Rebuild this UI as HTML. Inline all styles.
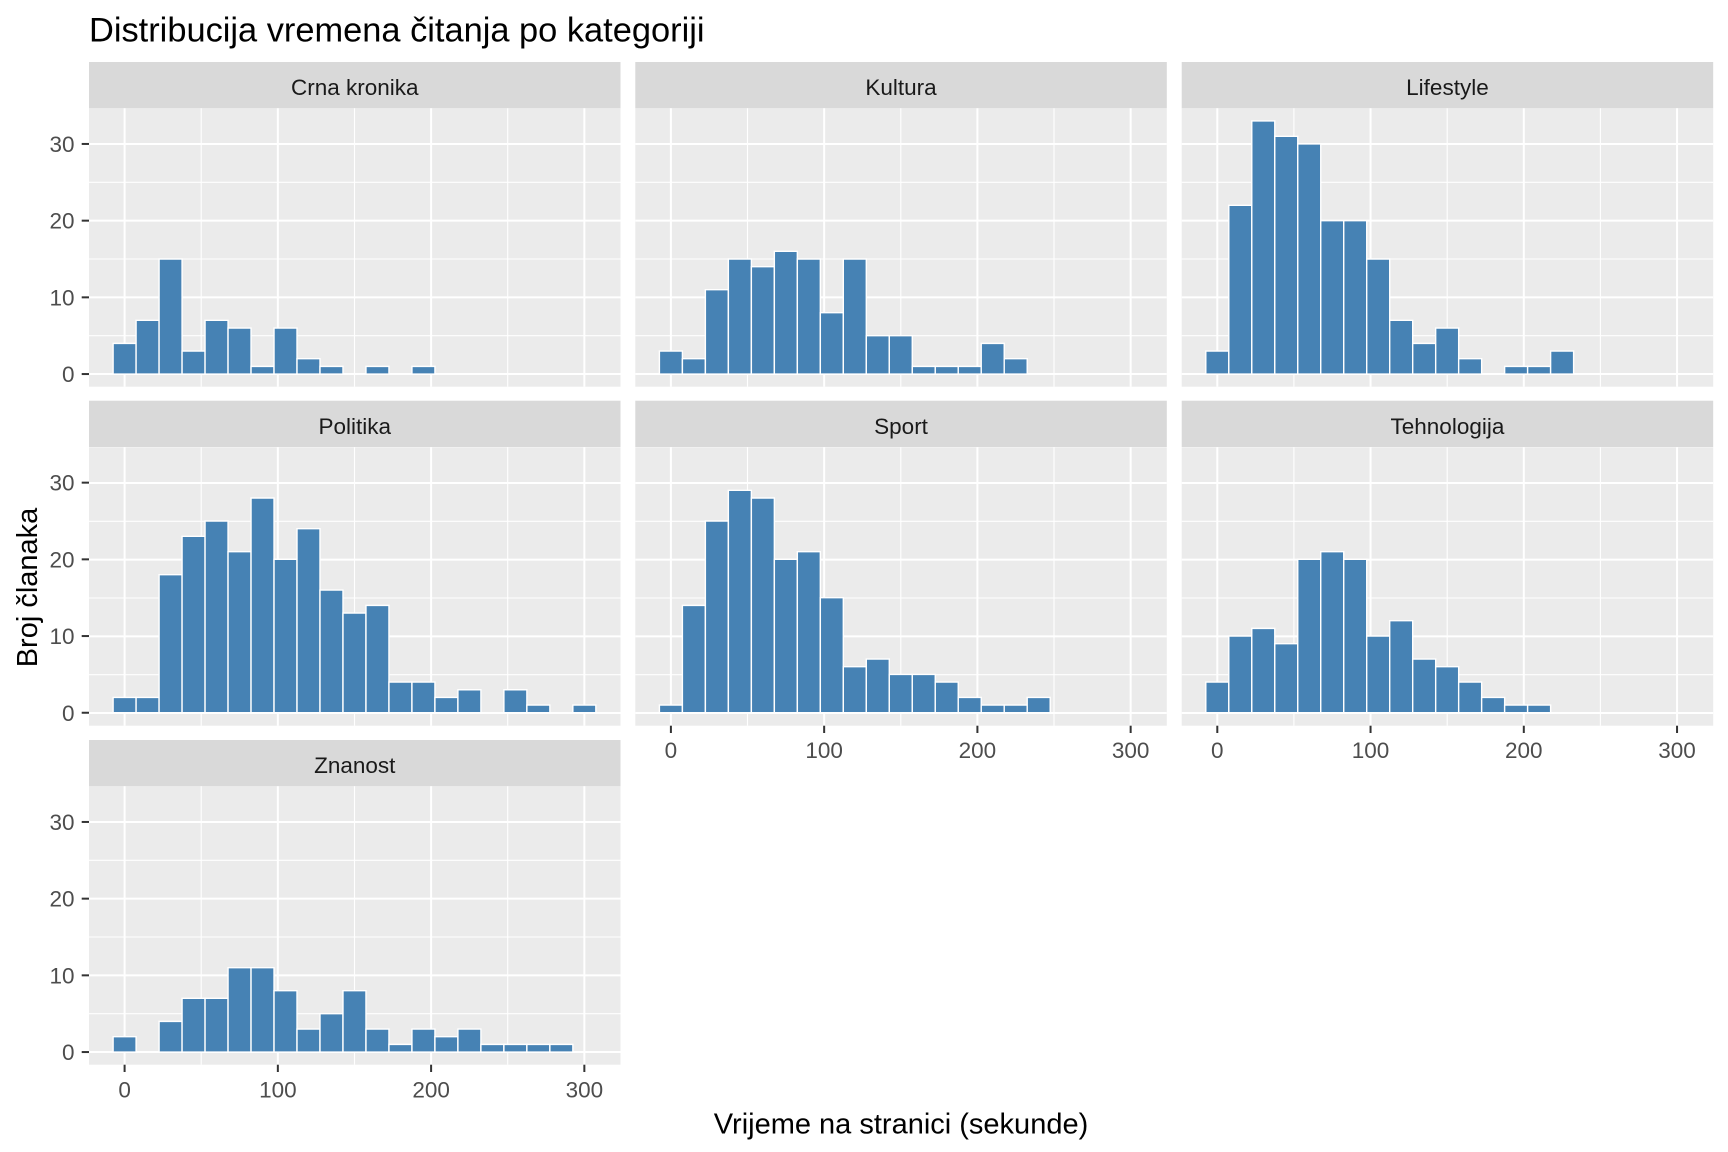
<!DOCTYPE html>
<html>
<head>
<meta charset="utf-8">
<style>
html,body{margin:0;padding:0;background:#fff;}
svg{display:block;}
text{font-family:"Liberation Sans",Arial,sans-serif;}
.strip{font-size:22.5px;fill:#1A1A1A;text-anchor:middle;}
.yl{font-size:22.5px;fill:#4D4D4D;text-anchor:end;}
.xl{font-size:22.5px;fill:#4D4D4D;text-anchor:middle;}
.bars rect{fill:#4682B4;stroke:#fff;stroke-width:1.4;vector-effect:non-scaling-stroke;}
.tk{stroke:#333;stroke-width:2;}
</style>
</head>
<body>
<svg width="1728" height="1152" viewBox="0 0 1728 1152" xmlns="http://www.w3.org/2000/svg">
<defs>
  <g id="bg">
    <rect x="0" y="0" width="531.5" height="278.4" fill="#EBEBEB"/>
    <g stroke="#fff" stroke-width="1.1">
      <line x1="0" x2="531.5" y1="227.4" y2="227.4"/>
      <line x1="0" x2="531.5" y1="150.7" y2="150.7"/>
      <line x1="0" x2="531.5" y1="74.0" y2="74.0"/>
      <line y1="0" y2="278.4" x1="112.2" x2="112.2"/>
      <line y1="0" y2="278.4" x1="265.5" x2="265.5"/>
      <line y1="0" y2="278.4" x1="418.7" x2="418.7"/>
    </g>
    <g stroke="#fff" stroke-width="2">
      <line x1="0" x2="531.5" y1="265.75" y2="265.75"/>
      <line x1="0" x2="531.5" y1="189.05" y2="189.05"/>
      <line x1="0" x2="531.5" y1="112.35" y2="112.35"/>
      <line x1="0" x2="531.5" y1="35.65" y2="35.65"/>
      <line y1="0" y2="278.4" x1="35.6" x2="35.6"/>
      <line y1="0" y2="278.4" x1="188.85" x2="188.85"/>
      <line y1="0" y2="278.4" x1="342.1" x2="342.1"/>
      <line y1="0" y2="278.4" x1="495.35" x2="495.35"/>
    </g>
  </g>
</defs>

<!-- Title -->
<text x="89" y="41.3" font-size="34.4" fill="#000">Distribucija vremena čitanja po kategoriji</text>

<!-- Strips -->
<rect x="89" y="62" width="531.5" height="46.3" fill="#D9D9D9"/>
<rect x="635.3" y="62" width="531.5" height="46.3" fill="#D9D9D9"/>
<rect x="1181.7" y="62" width="531.5" height="46.3" fill="#D9D9D9"/>
<rect x="89" y="400.7" width="531.5" height="46.3" fill="#D9D9D9"/>
<rect x="635.3" y="400.7" width="531.5" height="46.3" fill="#D9D9D9"/>
<rect x="1181.7" y="400.7" width="531.5" height="46.3" fill="#D9D9D9"/>
<rect x="89" y="740" width="531.5" height="46.3" fill="#D9D9D9"/>

<text class="strip" x="354.75" y="95">Crna kronika</text>
<text class="strip" x="901.05" y="95">Kultura</text>
<text class="strip" x="1447.45" y="95">Lifestyle</text>
<text class="strip" x="354.75" y="434">Politika</text>
<text class="strip" x="901.05" y="434">Sport</text>
<text class="strip" x="1447.45" y="434">Tehnologija</text>
<text class="strip" x="354.75" y="773">Znanost</text>

<!-- Panel backgrounds -->
<use href="#bg" x="89" y="108.3"/>
<use href="#bg" x="635.3" y="108.3"/>
<use href="#bg" x="1181.7" y="108.3"/>
<use href="#bg" x="89" y="447.3"/>
<use href="#bg" x="635.3" y="447.3"/>
<use href="#bg" x="1181.7" y="447.3"/>
<use href="#bg" x="89" y="786.3"/>

<!-- Bars: Crna kronika -->
<g class="bars" transform="translate(124.6,374.05) scale(1.5325,-7.67)">
<rect x="-7.5" y="0" width="15" height="4"/>
<rect x="7.5" y="0" width="15" height="7"/>
<rect x="22.5" y="0" width="15" height="15"/>
<rect x="37.5" y="0" width="15" height="3"/>
<rect x="52.5" y="0" width="15" height="7"/>
<rect x="67.5" y="0" width="15" height="6"/>
<rect x="82.5" y="0" width="15" height="1"/>
<rect x="97.5" y="0" width="15" height="6"/>
<rect x="112.5" y="0" width="15" height="2"/>
<rect x="127.5" y="0" width="15" height="1"/>
<rect x="157.5" y="0" width="15" height="1"/>
<rect x="187.5" y="0" width="15" height="1"/>
</g>

<!-- Bars: Kultura -->
<g class="bars" transform="translate(670.9,374.05) scale(1.5325,-7.67)">
<rect x="-7.5" y="0" width="15" height="3"/>
<rect x="7.5" y="0" width="15" height="2"/>
<rect x="22.5" y="0" width="15" height="11"/>
<rect x="37.5" y="0" width="15" height="15"/>
<rect x="52.5" y="0" width="15" height="14"/>
<rect x="67.5" y="0" width="15" height="16"/>
<rect x="82.5" y="0" width="15" height="15"/>
<rect x="97.5" y="0" width="15" height="8"/>
<rect x="112.5" y="0" width="15" height="15"/>
<rect x="127.5" y="0" width="15" height="5"/>
<rect x="142.5" y="0" width="15" height="5"/>
<rect x="157.5" y="0" width="15" height="1"/>
<rect x="172.5" y="0" width="15" height="1"/>
<rect x="187.5" y="0" width="15" height="1"/>
<rect x="202.5" y="0" width="15" height="4"/>
<rect x="217.5" y="0" width="15" height="2"/>
</g>

<!-- Bars: Lifestyle -->
<g class="bars" transform="translate(1217.3,374.05) scale(1.5325,-7.67)">
<rect x="-7.5" y="0" width="15" height="3"/>
<rect x="7.5" y="0" width="15" height="22"/>
<rect x="22.5" y="0" width="15" height="33"/>
<rect x="37.5" y="0" width="15" height="31"/>
<rect x="52.5" y="0" width="15" height="30"/>
<rect x="67.5" y="0" width="15" height="20"/>
<rect x="82.5" y="0" width="15" height="20"/>
<rect x="97.5" y="0" width="15" height="15"/>
<rect x="112.5" y="0" width="15" height="7"/>
<rect x="127.5" y="0" width="15" height="4"/>
<rect x="142.5" y="0" width="15" height="6"/>
<rect x="157.5" y="0" width="15" height="2"/>
<rect x="187.5" y="0" width="15" height="1"/>
<rect x="202.5" y="0" width="15" height="1"/>
<rect x="217.5" y="0" width="15" height="3"/>
</g>

<!-- Bars: Politika -->
<g class="bars" transform="translate(124.6,712.75) scale(1.5325,-7.67)">
<rect x="-7.5" y="0" width="15" height="2"/>
<rect x="7.5" y="0" width="15" height="2"/>
<rect x="22.5" y="0" width="15" height="18"/>
<rect x="37.5" y="0" width="15" height="23"/>
<rect x="52.5" y="0" width="15" height="25"/>
<rect x="67.5" y="0" width="15" height="21"/>
<rect x="82.5" y="0" width="15" height="28"/>
<rect x="97.5" y="0" width="15" height="20"/>
<rect x="112.5" y="0" width="15" height="24"/>
<rect x="127.5" y="0" width="15" height="16"/>
<rect x="142.5" y="0" width="15" height="13"/>
<rect x="157.5" y="0" width="15" height="14"/>
<rect x="172.5" y="0" width="15" height="4"/>
<rect x="187.5" y="0" width="15" height="4"/>
<rect x="202.5" y="0" width="15" height="2"/>
<rect x="217.5" y="0" width="15" height="3"/>
<rect x="247.5" y="0" width="15" height="3"/>
<rect x="262.5" y="0" width="15" height="1"/>
<rect x="292.5" y="0" width="15" height="1"/>
</g>

<!-- Bars: Sport -->
<g class="bars" transform="translate(670.9,712.75) scale(1.5325,-7.67)">
<rect x="-7.5" y="0" width="15" height="1"/>
<rect x="7.5" y="0" width="15" height="14"/>
<rect x="22.5" y="0" width="15" height="25"/>
<rect x="37.5" y="0" width="15" height="29"/>
<rect x="52.5" y="0" width="15" height="28"/>
<rect x="67.5" y="0" width="15" height="20"/>
<rect x="82.5" y="0" width="15" height="21"/>
<rect x="97.5" y="0" width="15" height="15"/>
<rect x="112.5" y="0" width="15" height="6"/>
<rect x="127.5" y="0" width="15" height="7"/>
<rect x="142.5" y="0" width="15" height="5"/>
<rect x="157.5" y="0" width="15" height="5"/>
<rect x="172.5" y="0" width="15" height="4"/>
<rect x="187.5" y="0" width="15" height="2"/>
<rect x="202.5" y="0" width="15" height="1"/>
<rect x="217.5" y="0" width="15" height="1"/>
<rect x="232.5" y="0" width="15" height="2"/>
</g>

<!-- Bars: Tehnologija -->
<g class="bars" transform="translate(1217.3,712.75) scale(1.5325,-7.67)">
<rect x="-7.5" y="0" width="15" height="4"/>
<rect x="7.5" y="0" width="15" height="10"/>
<rect x="22.5" y="0" width="15" height="11"/>
<rect x="37.5" y="0" width="15" height="9"/>
<rect x="52.5" y="0" width="15" height="20"/>
<rect x="67.5" y="0" width="15" height="21"/>
<rect x="82.5" y="0" width="15" height="20"/>
<rect x="97.5" y="0" width="15" height="10"/>
<rect x="112.5" y="0" width="15" height="12"/>
<rect x="127.5" y="0" width="15" height="7"/>
<rect x="142.5" y="0" width="15" height="6"/>
<rect x="157.5" y="0" width="15" height="4"/>
<rect x="172.5" y="0" width="15" height="2"/>
<rect x="187.5" y="0" width="15" height="1"/>
<rect x="202.5" y="0" width="15" height="1"/>
</g>

<!-- Bars: Znanost -->
<g class="bars" transform="translate(124.6,1052.05) scale(1.5325,-7.67)">
<rect x="-7.5" y="0" width="15" height="2"/>
<rect x="22.5" y="0" width="15" height="4"/>
<rect x="37.5" y="0" width="15" height="7"/>
<rect x="52.5" y="0" width="15" height="7"/>
<rect x="67.5" y="0" width="15" height="11"/>
<rect x="82.5" y="0" width="15" height="11"/>
<rect x="97.5" y="0" width="15" height="8"/>
<rect x="112.5" y="0" width="15" height="3"/>
<rect x="127.5" y="0" width="15" height="5"/>
<rect x="142.5" y="0" width="15" height="8"/>
<rect x="157.5" y="0" width="15" height="3"/>
<rect x="172.5" y="0" width="15" height="1"/>
<rect x="187.5" y="0" width="15" height="3"/>
<rect x="202.5" y="0" width="15" height="2"/>
<rect x="217.5" y="0" width="15" height="3"/>
<rect x="232.5" y="0" width="15" height="1"/>
<rect x="247.5" y="0" width="15" height="1"/>
<rect x="262.5" y="0" width="15" height="1"/>
<rect x="277.5" y="0" width="15" height="1"/>
</g>

<!-- Y ticks -->
<g class="tk">
<line x1="81.7" x2="89" y1="374.05" y2="374.05"/>
<line x1="81.7" x2="89" y1="297.35" y2="297.35"/>
<line x1="81.7" x2="89" y1="220.65" y2="220.65"/>
<line x1="81.7" x2="89" y1="143.95" y2="143.95"/>
<line x1="81.7" x2="89" y1="712.75" y2="712.75"/>
<line x1="81.7" x2="89" y1="636.05" y2="636.05"/>
<line x1="81.7" x2="89" y1="559.35" y2="559.35"/>
<line x1="81.7" x2="89" y1="482.65" y2="482.65"/>
<line x1="81.7" x2="89" y1="1052.05" y2="1052.05"/>
<line x1="81.7" x2="89" y1="975.35" y2="975.35"/>
<line x1="81.7" x2="89" y1="898.65" y2="898.65"/>
<line x1="81.7" x2="89" y1="821.95" y2="821.95"/>
</g>

<!-- Y labels -->
<text class="yl" x="74.5" y="382.1">0</text>
<text class="yl" x="74.5" y="305.4">10</text>
<text class="yl" x="74.5" y="228.7">20</text>
<text class="yl" x="74.5" y="152">30</text>
<text class="yl" x="74.5" y="720.8">0</text>
<text class="yl" x="74.5" y="644.1">10</text>
<text class="yl" x="74.5" y="567.4">20</text>
<text class="yl" x="74.5" y="490.7">30</text>
<text class="yl" x="74.5" y="1060.1">0</text>
<text class="yl" x="74.5" y="983.4">10</text>
<text class="yl" x="74.5" y="906.7">20</text>
<text class="yl" x="74.5" y="830">30</text>

<!-- X ticks -->
<g class="tk">
<line y1="1064.7" y2="1072" x1="124.6" x2="124.6"/>
<line y1="1064.7" y2="1072" x1="277.85" x2="277.85"/>
<line y1="1064.7" y2="1072" x1="431.1" x2="431.1"/>
<line y1="1064.7" y2="1072" x1="584.35" x2="584.35"/>
<line y1="725.7" y2="733" x1="670.9" x2="670.9"/>
<line y1="725.7" y2="733" x1="824.15" x2="824.15"/>
<line y1="725.7" y2="733" x1="977.4" x2="977.4"/>
<line y1="725.7" y2="733" x1="1130.65" x2="1130.65"/>
<line y1="725.7" y2="733" x1="1217.3" x2="1217.3"/>
<line y1="725.7" y2="733" x1="1370.55" x2="1370.55"/>
<line y1="725.7" y2="733" x1="1523.8" x2="1523.8"/>
<line y1="725.7" y2="733" x1="1677.05" x2="1677.05"/>
</g>

<!-- X labels -->
<text class="xl" x="124.6" y="1097.5">0</text>
<text class="xl" x="277.85" y="1097.5">100</text>
<text class="xl" x="431.1" y="1097.5">200</text>
<text class="xl" x="584.35" y="1097.5">300</text>
<text class="xl" x="670.9" y="757.8">0</text>
<text class="xl" x="824.15" y="757.8">100</text>
<text class="xl" x="977.4" y="757.8">200</text>
<text class="xl" x="1130.65" y="757.8">300</text>
<text class="xl" x="1217.3" y="757.8">0</text>
<text class="xl" x="1370.55" y="757.8">100</text>
<text class="xl" x="1523.8" y="757.8">200</text>
<text class="xl" x="1677.05" y="757.8">300</text>

<!-- Axis titles -->
<text x="901" y="1133.3" font-size="29" fill="#000" text-anchor="middle">Vrijeme na stranici (sekunde)</text>
<text transform="translate(37,587.5) rotate(-90)" x="0" y="0" font-size="29" fill="#000" text-anchor="middle">Broj članaka</text>
</svg>
</body>
</html>
